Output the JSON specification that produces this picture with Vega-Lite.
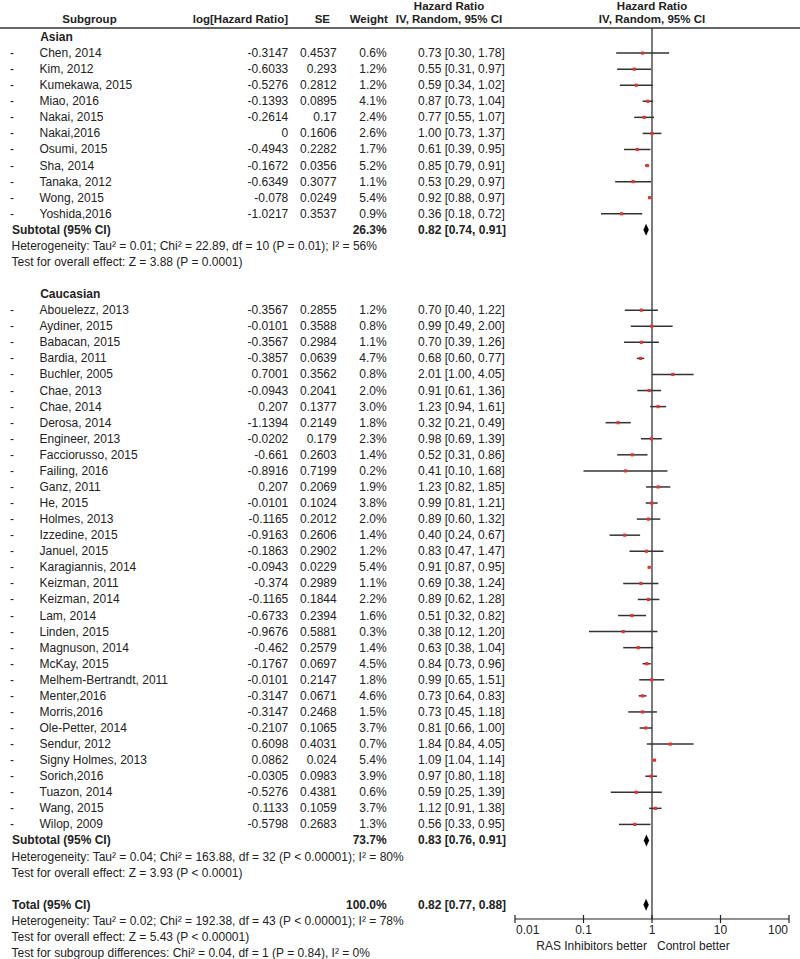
{
  "$schema": "https://vega.github.io/schema/vega-lite/v6.json",
  "width": 800,
  "height": 959,
  "autosize": "none",
  "padding": 0,
  "background": "white",
  "config": {
    "view": {"stroke": null},
    "text": {"font": "Liberation Sans", "fontSize": 12, "color": "#222222", "baseline": "middle"}
  },
  "datasets": {
    "studies": [
      {"row": 1, "name": "Chen, 2014", "lhr": "-0.3147", "se": "0.4537", "w": "0.6%", "ci": "0.73 [0.30, 1.78]", "hr": 0.73, "lo": 0.30, "hi": 1.78},
      {"row": 2, "name": "Kim, 2012", "lhr": "-0.6033", "se": "0.293", "w": "1.2%", "ci": "0.55 [0.31, 0.97]", "hr": 0.55, "lo": 0.31, "hi": 0.97},
      {"row": 3, "name": "Kumekawa, 2015", "lhr": "-0.5276", "se": "0.2812", "w": "1.2%", "ci": "0.59 [0.34, 1.02]", "hr": 0.59, "lo": 0.34, "hi": 1.02},
      {"row": 4, "name": "Miao, 2016", "lhr": "-0.1393", "se": "0.0895", "w": "4.1%", "ci": "0.87 [0.73, 1.04]", "hr": 0.87, "lo": 0.73, "hi": 1.04},
      {"row": 5, "name": "Nakai, 2015", "lhr": "-0.2614", "se": "0.17", "w": "2.4%", "ci": "0.77 [0.55, 1.07]", "hr": 0.77, "lo": 0.55, "hi": 1.07},
      {"row": 6, "name": "Nakai,2016", "lhr": "0", "se": "0.1606", "w": "2.6%", "ci": "1.00 [0.73, 1.37]", "hr": 1.00, "lo": 0.73, "hi": 1.37},
      {"row": 7, "name": "Osumi, 2015", "lhr": "-0.4943", "se": "0.2282", "w": "1.7%", "ci": "0.61 [0.39, 0.95]", "hr": 0.61, "lo": 0.39, "hi": 0.95},
      {"row": 8, "name": "Sha, 2014", "lhr": "-0.1672", "se": "0.0356", "w": "5.2%", "ci": "0.85 [0.79, 0.91]", "hr": 0.85, "lo": 0.79, "hi": 0.91},
      {"row": 9, "name": "Tanaka, 2012", "lhr": "-0.6349", "se": "0.3077", "w": "1.1%", "ci": "0.53 [0.29, 0.97]", "hr": 0.53, "lo": 0.29, "hi": 0.97},
      {"row": 10, "name": "Wong, 2015", "lhr": "-0.078", "se": "0.0249", "w": "5.4%", "ci": "0.92 [0.88, 0.97]", "hr": 0.92, "lo": 0.88, "hi": 0.97},
      {"row": 11, "name": "Yoshida,2016", "lhr": "-1.0217", "se": "0.3537", "w": "0.9%", "ci": "0.36 [0.18, 0.72]", "hr": 0.36, "lo": 0.18, "hi": 0.72},
      {"row": 17, "name": "Abouelezz, 2013", "lhr": "-0.3567", "se": "0.2855", "w": "1.2%", "ci": "0.70 [0.40, 1.22]", "hr": 0.70, "lo": 0.40, "hi": 1.22},
      {"row": 18, "name": "Aydiner, 2015", "lhr": "-0.0101", "se": "0.3588", "w": "0.8%", "ci": "0.99 [0.49, 2.00]", "hr": 0.99, "lo": 0.49, "hi": 2.00},
      {"row": 19, "name": "Babacan, 2015", "lhr": "-0.3567", "se": "0.2984", "w": "1.1%", "ci": "0.70 [0.39, 1.26]", "hr": 0.70, "lo": 0.39, "hi": 1.26},
      {"row": 20, "name": "Bardia, 2011", "lhr": "-0.3857", "se": "0.0639", "w": "4.7%", "ci": "0.68 [0.60, 0.77]", "hr": 0.68, "lo": 0.60, "hi": 0.77},
      {"row": 21, "name": "Buchler, 2005", "lhr": "0.7001", "se": "0.3562", "w": "0.8%", "ci": "2.01 [1.00, 4.05]", "hr": 2.01, "lo": 1.00, "hi": 4.05},
      {"row": 22, "name": "Chae, 2013", "lhr": "-0.0943", "se": "0.2041", "w": "2.0%", "ci": "0.91 [0.61, 1.36]", "hr": 0.91, "lo": 0.61, "hi": 1.36},
      {"row": 23, "name": "Chae, 2014", "lhr": "0.207", "se": "0.1377", "w": "3.0%", "ci": "1.23 [0.94, 1.61]", "hr": 1.23, "lo": 0.94, "hi": 1.61},
      {"row": 24, "name": "Derosa, 2014", "lhr": "-1.1394", "se": "0.2149", "w": "1.8%", "ci": "0.32 [0.21, 0.49]", "hr": 0.32, "lo": 0.21, "hi": 0.49},
      {"row": 25, "name": "Engineer, 2013", "lhr": "-0.0202", "se": "0.179", "w": "2.3%", "ci": "0.98 [0.69, 1.39]", "hr": 0.98, "lo": 0.69, "hi": 1.39},
      {"row": 26, "name": "Facciorusso, 2015", "lhr": "-0.661", "se": "0.2603", "w": "1.4%", "ci": "0.52 [0.31, 0.86]", "hr": 0.52, "lo": 0.31, "hi": 0.86},
      {"row": 27, "name": "Failing, 2016", "lhr": "-0.8916", "se": "0.7199", "w": "0.2%", "ci": "0.41 [0.10, 1.68]", "hr": 0.41, "lo": 0.10, "hi": 1.68},
      {"row": 28, "name": "Ganz, 2011", "lhr": "0.207", "se": "0.2069", "w": "1.9%", "ci": "1.23 [0.82, 1.85]", "hr": 1.23, "lo": 0.82, "hi": 1.85},
      {"row": 29, "name": "He, 2015", "lhr": "-0.0101", "se": "0.1024", "w": "3.8%", "ci": "0.99 [0.81, 1.21]", "hr": 0.99, "lo": 0.81, "hi": 1.21},
      {"row": 30, "name": "Holmes, 2013", "lhr": "-0.1165", "se": "0.2012", "w": "2.0%", "ci": "0.89 [0.60, 1.32]", "hr": 0.89, "lo": 0.60, "hi": 1.32},
      {"row": 31, "name": "Izzedine, 2015", "lhr": "-0.9163", "se": "0.2606", "w": "1.4%", "ci": "0.40 [0.24, 0.67]", "hr": 0.40, "lo": 0.24, "hi": 0.67},
      {"row": 32, "name": "Januel, 2015", "lhr": "-0.1863", "se": "0.2902", "w": "1.2%", "ci": "0.83 [0.47, 1.47]", "hr": 0.83, "lo": 0.47, "hi": 1.47},
      {"row": 33, "name": "Karagiannis, 2014", "lhr": "-0.0943", "se": "0.0229", "w": "5.4%", "ci": "0.91 [0.87, 0.95]", "hr": 0.91, "lo": 0.87, "hi": 0.95},
      {"row": 34, "name": "Keizman, 2011", "lhr": "-0.374", "se": "0.2989", "w": "1.1%", "ci": "0.69 [0.38, 1.24]", "hr": 0.69, "lo": 0.38, "hi": 1.24},
      {"row": 35, "name": "Keizman, 2014", "lhr": "-0.1165", "se": "0.1844", "w": "2.2%", "ci": "0.89 [0.62, 1.28]", "hr": 0.89, "lo": 0.62, "hi": 1.28},
      {"row": 36, "name": "Lam, 2014", "lhr": "-0.6733", "se": "0.2394", "w": "1.6%", "ci": "0.51 [0.32, 0.82]", "hr": 0.51, "lo": 0.32, "hi": 0.82},
      {"row": 37, "name": "Linden, 2015", "lhr": "-0.9676", "se": "0.5881", "w": "0.3%", "ci": "0.38 [0.12, 1.20]", "hr": 0.38, "lo": 0.12, "hi": 1.20},
      {"row": 38, "name": "Magnuson, 2014", "lhr": "-0.462", "se": "0.2579", "w": "1.4%", "ci": "0.63 [0.38, 1.04]", "hr": 0.63, "lo": 0.38, "hi": 1.04},
      {"row": 39, "name": "McKay, 2015", "lhr": "-0.1767", "se": "0.0697", "w": "4.5%", "ci": "0.84 [0.73, 0.96]", "hr": 0.84, "lo": 0.73, "hi": 0.96},
      {"row": 40, "name": "Melhem-Bertrandt, 2011", "lhr": "-0.0101", "se": "0.2147", "w": "1.8%", "ci": "0.99 [0.65, 1.51]", "hr": 0.99, "lo": 0.65, "hi": 1.51},
      {"row": 41, "name": "Menter,2016", "lhr": "-0.3147", "se": "0.0671", "w": "4.6%", "ci": "0.73 [0.64, 0.83]", "hr": 0.73, "lo": 0.64, "hi": 0.83},
      {"row": 42, "name": "Morris,2016", "lhr": "-0.3147", "se": "0.2468", "w": "1.5%", "ci": "0.73 [0.45, 1.18]", "hr": 0.73, "lo": 0.45, "hi": 1.18},
      {"row": 43, "name": "Ole-Petter, 2014", "lhr": "-0.2107", "se": "0.1065", "w": "3.7%", "ci": "0.81 [0.66, 1.00]", "hr": 0.81, "lo": 0.66, "hi": 1.00},
      {"row": 44, "name": "Sendur, 2012", "lhr": "0.6098", "se": "0.4031", "w": "0.7%", "ci": "1.84 [0.84, 4.05]", "hr": 1.84, "lo": 0.84, "hi": 4.05},
      {"row": 45, "name": "Signy Holmes, 2013", "lhr": "0.0862", "se": "0.024", "w": "5.4%", "ci": "1.09 [1.04, 1.14]", "hr": 1.09, "lo": 1.04, "hi": 1.14},
      {"row": 46, "name": "Sorich,2016", "lhr": "-0.0305", "se": "0.0983", "w": "3.9%", "ci": "0.97 [0.80, 1.18]", "hr": 0.97, "lo": 0.80, "hi": 1.18},
      {"row": 47, "name": "Tuazon, 2014", "lhr": "-0.5276", "se": "0.4381", "w": "0.6%", "ci": "0.59 [0.25, 1.39]", "hr": 0.59, "lo": 0.25, "hi": 1.39},
      {"row": 48, "name": "Wang, 2015", "lhr": "0.1133", "se": "0.1059", "w": "3.7%", "ci": "1.12 [0.91, 1.38]", "hr": 1.12, "lo": 0.91, "hi": 1.38},
      {"row": 49, "name": "Wilop, 2009", "lhr": "-0.5798", "se": "0.2683", "w": "1.3%", "ci": "0.56 [0.33, 0.95]", "hr": 0.56, "lo": 0.33, "hi": 0.95}
    ],
    "groups": [
      {"row": 0, "name": "Asian"},
      {"row": 16, "name": "Caucasian"}
    ],
    "summary": [
      {"row": 12, "name": "Subtotal (95% CI)", "w": "26.3%", "ci": "0.82 [0.74, 0.91]", "hr": 0.82, "lo": 0.74, "hi": 0.91},
      {"row": 50, "name": "Subtotal (95% CI)", "w": "73.7%", "ci": "0.83 [0.76, 0.91]", "hr": 0.83, "lo": 0.76, "hi": 0.91},
      {"row": 54, "name": "Total (95% CI)", "w": "100.0%", "ci": "0.82 [0.77, 0.88]", "hr": 0.82, "lo": 0.77, "hi": 0.88}
    ],
    "notes": [
      {"row": 13, "t": "Heterogeneity: Tau² = 0.01; Chi² = 22.89, df = 10 (P = 0.01); I² = 56%"},
      {"row": 14, "t": "Test for overall effect: Z = 3.88 (P = 0.0001)"},
      {"row": 51, "t": "Heterogeneity: Tau² = 0.04; Chi² = 163.88, df = 32 (P < 0.00001); I² = 80%"},
      {"row": 52, "t": "Test for overall effect: Z = 3.93 (P < 0.0001)"},
      {"row": 55, "t": "Heterogeneity: Tau² = 0.02; Chi² = 192.38, df = 43 (P < 0.00001); I² = 78%"},
      {"row": 56, "t": "Test for overall effect: Z = 5.43 (P < 0.00001)"},
      {"row": 57, "t": "Test for subgroup differences: Chi² = 0.04, df = 1 (P = 0.84), I² = 0%"}
    ],
    "hrhead": [
      {"row": -1.85, "t": "Hazard Ratio"},
      {"row": -1.05, "t": "IV, Random, 95% CI"}
    ],
    "colhead": [
      {"row": -1.05, "t": "Subgroup"},
      {"row": -1.05, "t": "log[Hazard Ratio]"},
      {"row": -1.05, "t": "SE"},
      {"row": -1.05, "t": "Weight"}
    ],
    "ticks": [{"v": 0.01}, {"v": 0.1}, {"v": 1}, {"v": 10}, {"v": 100}],
    "favours": [
      {"side": "left", "t": "RAS Inhibitors better"},
      {"side": "right", "t": "Control better"}
    ],
    "frame": [{"item": "line"}]
  },
  "layer": [
    {
      "layer": [
        {
          "data": {"name": "frame"},
          "mark": {"type": "rule", "color": "#333333", "strokeWidth": 1.5},
          "encoding": {
            "y": {"datum": -0.56, "type": "quantitative", "scale": {"domain": [-2.3024, 57.374], "reverse": true, "nice": false, "zero": false}, "axis": null}
          }
        },
        {
          "data": {"name": "frame"},
          "mark": {"type": "rule", "color": "#222222", "strokeWidth": 1.2},
          "encoding": {
            "x": {"datum": 1, "type": "quantitative", "scale": {"type": "log", "domain": [0.01, 100], "range": [515, 789], "nice": false}, "axis": null},
            "y": {"datum": -0.56, "type": "quantitative", "scale": {"domain": [-2.3024, 57.374], "reverse": true, "nice": false, "zero": false}, "axis": null},
            "y2": {"datum": 54.885}
          }
        },
        {
          "data": {"name": "frame"},
          "mark": {"type": "rule", "color": "#222222", "strokeWidth": 1.2},
          "encoding": {
            "x": {"datum": 0.01, "type": "quantitative", "scale": {"type": "log", "domain": [0.01, 100], "range": [515, 789], "nice": false}, "axis": null},
            "x2": {"datum": 100},
            "y": {"datum": 54.885, "type": "quantitative", "scale": {"domain": [-2.3024, 57.374], "reverse": true, "nice": false, "zero": false}, "axis": null}
          }
        },
        {
          "data": {"name": "studies"},
          "mark": {"type": "rule", "color": "#333333", "strokeWidth": 1.5},
          "encoding": {
            "x": {"field": "lo", "type": "quantitative", "scale": {"type": "log", "domain": [0.01, 100], "range": [515, 789], "nice": false}, "axis": null},
            "x2": {"field": "hi"},
            "y": {"field": "row", "type": "quantitative", "scale": {"domain": [-2.3024, 57.374], "reverse": true, "nice": false, "zero": false}, "axis": null}
          }
        },
        {
          "data": {"name": "studies"},
          "mark": {"type": "point", "shape": "square", "filled": true, "color": "#e8332b", "opacity": 1, "size": 10},
          "encoding": {
            "x": {"field": "hr", "type": "quantitative", "scale": {"type": "log", "domain": [0.01, 100], "range": [515, 789], "nice": false}, "axis": null},
            "y": {"field": "row", "type": "quantitative", "scale": {"domain": [-2.3024, 57.374], "reverse": true, "nice": false, "zero": false}, "axis": null}
          }
        },
        {
          "data": {"name": "ticks"},
          "mark": {"type": "tick", "orient": "vertical", "size": 8, "thickness": 1.2, "color": "#222222", "opacity": 1},
          "encoding": {
            "x": {"field": "v", "type": "quantitative", "scale": {"type": "log", "domain": [0.01, 100], "range": [515, 789], "nice": false}, "axis": null},
            "y": {"datum": 54.885, "type": "quantitative", "scale": {"domain": [-2.3024, 57.374], "reverse": true, "nice": false, "zero": false}, "axis": null}
          }
        },
        {
          "data": {"name": "ticks"},
          "transform": [{"filter": "datum.v === 0.01"}],
          "mark": {"type": "text", "align": "left", "dx": 1},
          "encoding": {
            "x": {"field": "v", "type": "quantitative", "scale": {"type": "log", "domain": [0.01, 100], "range": [515, 789], "nice": false}, "axis": null},
            "y": {"datum": 55.6, "type": "quantitative", "scale": {"domain": [-2.3024, 57.374], "reverse": true, "nice": false, "zero": false}, "axis": null},
            "text": {"field": "v", "type": "quantitative", "format": "~g"}
          }
        },
        {
          "data": {"name": "ticks"},
          "transform": [{"filter": "datum.v > 0.01 && datum.v < 100"}],
          "mark": {"type": "text", "align": "center"},
          "encoding": {
            "x": {"field": "v", "type": "quantitative", "scale": {"type": "log", "domain": [0.01, 100], "range": [515, 789], "nice": false}, "axis": null},
            "y": {"datum": 55.6, "type": "quantitative", "scale": {"domain": [-2.3024, 57.374], "reverse": true, "nice": false, "zero": false}, "axis": null},
            "text": {"field": "v", "type": "quantitative", "format": "~g"}
          }
        },
        {
          "data": {"name": "ticks"},
          "transform": [{"filter": "datum.v === 100"}],
          "mark": {"type": "text", "align": "right", "dx": -1},
          "encoding": {
            "x": {"field": "v", "type": "quantitative", "scale": {"type": "log", "domain": [0.01, 100], "range": [515, 789], "nice": false}, "axis": null},
            "y": {"datum": 55.6, "type": "quantitative", "scale": {"domain": [-2.3024, 57.374], "reverse": true, "nice": false, "zero": false}, "axis": null},
            "text": {"field": "v", "type": "quantitative", "format": "~g"}
          }
        },
        {
          "data": {"name": "summary"},
          "mark": {"type": "point", "shape": "M0,-1L0.45,0L0,1L-0.45,0Z", "filled": true, "color": "#000000", "opacity": 1, "size": 144},
          "encoding": {
            "x": {"field": "hr", "type": "quantitative", "scale": {"type": "log", "domain": [0.01, 100], "range": [515, 789], "nice": false}, "axis": null},
            "y": {"field": "row", "type": "quantitative", "scale": {"domain": [-2.3024, 57.374], "reverse": true, "nice": false, "zero": false}, "axis": null}
          }
        },
        {
          "data": {"name": "hrhead"},
          "mark": {"type": "text", "align": "center", "fontWeight": "bold", "fontSize": 11.5},
          "encoding": {
            "x": {"datum": 1, "type": "quantitative", "scale": {"type": "log", "domain": [0.01, 100], "range": [515, 789], "nice": false}, "axis": null},
            "y": {"field": "row", "type": "quantitative", "scale": {"domain": [-2.3024, 57.374], "reverse": true, "nice": false, "zero": false}, "axis": null},
            "text": {"field": "t"}
          }
        },
        {
          "data": {"name": "favours"},
          "transform": [{"filter": "datum.side === 'left'"}],
          "mark": {"type": "text", "align": "right", "dx": -5},
          "encoding": {
            "x": {"datum": 1, "type": "quantitative", "scale": {"type": "log", "domain": [0.01, 100], "range": [515, 789], "nice": false}, "axis": null},
            "y": {"datum": 56.55, "type": "quantitative", "scale": {"domain": [-2.3024, 57.374], "reverse": true, "nice": false, "zero": false}, "axis": null},
            "text": {"field": "t"}
          }
        },
        {
          "data": {"name": "favours"},
          "transform": [{"filter": "datum.side === 'right'"}],
          "mark": {"type": "text", "align": "left", "dx": 5},
          "encoding": {
            "x": {"datum": 1, "type": "quantitative", "scale": {"type": "log", "domain": [0.01, 100], "range": [515, 789], "nice": false}, "axis": null},
            "y": {"datum": 56.55, "type": "quantitative", "scale": {"domain": [-2.3024, 57.374], "reverse": true, "nice": false, "zero": false}, "axis": null},
            "text": {"field": "t"}
          }
        }
      ]
    },
    {
      "layer": [
        {
          "data": {"name": "studies"},
          "mark": {"type": "text", "align": "center"},
          "encoding": {
            "x": {"datum": "mark", "type": "nominal", "scale": {"type": "point", "domain": ["mark", "study", "logHR", "SE", "weight", "CI"], "range": [12, 418], "padding": 0}, "axis": null},
            "y": {"field": "row", "type": "quantitative", "scale": {"domain": [-2.3024, 57.374], "reverse": true, "nice": false, "zero": false}, "axis": null},
            "text": {"value": "-"}
          }
        },
        {
          "data": {"name": "studies"},
          "mark": {"type": "text", "align": "left", "dx": -53.7},
          "encoding": {
            "x": {"datum": "study", "type": "nominal", "scale": {"type": "point", "domain": ["mark", "study", "logHR", "SE", "weight", "CI"], "range": [12, 418], "padding": 0}, "axis": null},
            "y": {"field": "row", "type": "quantitative", "scale": {"domain": [-2.3024, 57.374], "reverse": true, "nice": false, "zero": false}, "axis": null},
            "text": {"field": "name"}
          }
        },
        {
          "data": {"name": "studies"},
          "mark": {"type": "text", "align": "right", "dx": 113.9},
          "encoding": {
            "x": {"datum": "logHR", "type": "nominal", "scale": {"type": "point", "domain": ["mark", "study", "logHR", "SE", "weight", "CI"], "range": [12, 418], "padding": 0}, "axis": null},
            "y": {"field": "row", "type": "quantitative", "scale": {"domain": [-2.3024, 57.374], "reverse": true, "nice": false, "zero": false}, "axis": null},
            "text": {"field": "lhr"}
          }
        },
        {
          "data": {"name": "studies"},
          "mark": {"type": "text", "align": "right", "dx": 81.1},
          "encoding": {
            "x": {"datum": "SE", "type": "nominal", "scale": {"type": "point", "domain": ["mark", "study", "logHR", "SE", "weight", "CI"], "range": [12, 418], "padding": 0}, "axis": null},
            "y": {"field": "row", "type": "quantitative", "scale": {"domain": [-2.3024, 57.374], "reverse": true, "nice": false, "zero": false}, "axis": null},
            "text": {"field": "se"}
          }
        },
        {
          "data": {"name": "studies"},
          "mark": {"type": "text", "align": "right", "dx": 49.9},
          "encoding": {
            "x": {"datum": "weight", "type": "nominal", "scale": {"type": "point", "domain": ["mark", "study", "logHR", "SE", "weight", "CI"], "range": [12, 418], "padding": 0}, "axis": null},
            "y": {"field": "row", "type": "quantitative", "scale": {"domain": [-2.3024, 57.374], "reverse": true, "nice": false, "zero": false}, "axis": null},
            "text": {"field": "w"}
          }
        },
        {
          "data": {"name": "studies"},
          "mark": {"type": "text", "align": "left", "dx": 0},
          "encoding": {
            "x": {"datum": "CI", "type": "nominal", "scale": {"type": "point", "domain": ["mark", "study", "logHR", "SE", "weight", "CI"], "range": [12, 418], "padding": 0}, "axis": null},
            "y": {"field": "row", "type": "quantitative", "scale": {"domain": [-2.3024, 57.374], "reverse": true, "nice": false, "zero": false}, "axis": null},
            "text": {"field": "ci"}
          }
        },
        {
          "data": {"name": "groups"},
          "mark": {"type": "text", "align": "left", "dx": -53, "fontWeight": "bold"},
          "encoding": {
            "x": {"datum": "study", "type": "nominal", "scale": {"type": "point", "domain": ["mark", "study", "logHR", "SE", "weight", "CI"], "range": [12, 418], "padding": 0}, "axis": null},
            "y": {"field": "row", "type": "quantitative", "scale": {"domain": [-2.3024, 57.374], "reverse": true, "nice": false, "zero": false}, "axis": null},
            "text": {"field": "name"}
          }
        },
        {
          "data": {"name": "summary"},
          "mark": {"type": "text", "align": "left", "fontWeight": "bold"},
          "encoding": {
            "x": {"datum": "mark", "type": "nominal", "scale": {"type": "point", "domain": ["mark", "study", "logHR", "SE", "weight", "CI"], "range": [12, 418], "padding": 0}, "axis": null},
            "y": {"field": "row", "type": "quantitative", "scale": {"domain": [-2.3024, 57.374], "reverse": true, "nice": false, "zero": false}, "axis": null},
            "text": {"field": "name"}
          }
        },
        {
          "data": {"name": "summary"},
          "mark": {"type": "text", "align": "right", "dx": 49.9, "fontWeight": "bold"},
          "encoding": {
            "x": {"datum": "weight", "type": "nominal", "scale": {"type": "point", "domain": ["mark", "study", "logHR", "SE", "weight", "CI"], "range": [12, 418], "padding": 0}, "axis": null},
            "y": {"field": "row", "type": "quantitative", "scale": {"domain": [-2.3024, 57.374], "reverse": true, "nice": false, "zero": false}, "axis": null},
            "text": {"field": "w"}
          }
        },
        {
          "data": {"name": "summary"},
          "mark": {"type": "text", "align": "left", "fontWeight": "bold"},
          "encoding": {
            "x": {"datum": "CI", "type": "nominal", "scale": {"type": "point", "domain": ["mark", "study", "logHR", "SE", "weight", "CI"], "range": [12, 418], "padding": 0}, "axis": null},
            "y": {"field": "row", "type": "quantitative", "scale": {"domain": [-2.3024, 57.374], "reverse": true, "nice": false, "zero": false}, "axis": null},
            "text": {"field": "ci"}
          }
        },
        {
          "data": {"name": "notes"},
          "mark": {"type": "text", "align": "left", "dx": -0.5},
          "encoding": {
            "x": {"datum": "mark", "type": "nominal", "scale": {"type": "point", "domain": ["mark", "study", "logHR", "SE", "weight", "CI"], "range": [12, 418], "padding": 0}, "axis": null},
            "y": {"field": "row", "type": "quantitative", "scale": {"domain": [-2.3024, 57.374], "reverse": true, "nice": false, "zero": false}, "axis": null},
            "text": {"field": "t"}
          }
        },
        {
          "data": {"name": "colhead"},
          "transform": [{"filter": "datum.t === 'Subgroup'"}],
          "mark": {"type": "text", "align": "center", "dx": -3.7, "fontWeight": "bold", "fontSize": 11.5},
          "encoding": {
            "x": {"datum": "study", "type": "nominal", "scale": {"type": "point", "domain": ["mark", "study", "logHR", "SE", "weight", "CI"], "range": [12, 418], "padding": 0}, "axis": null},
            "y": {"field": "row", "type": "quantitative", "scale": {"domain": [-2.3024, 57.374], "reverse": true, "nice": false, "zero": false}, "axis": null},
            "text": {"field": "t"}
          }
        },
        {
          "data": {"name": "colhead"},
          "transform": [{"filter": "datum.t === 'log[Hazard Ratio]'"}],
          "mark": {"type": "text", "align": "right", "dx": 113.6, "fontWeight": "bold", "fontSize": 11.5},
          "encoding": {
            "x": {"datum": "logHR", "type": "nominal", "scale": {"type": "point", "domain": ["mark", "study", "logHR", "SE", "weight", "CI"], "range": [12, 418], "padding": 0}, "axis": null},
            "y": {"field": "row", "type": "quantitative", "scale": {"domain": [-2.3024, 57.374], "reverse": true, "nice": false, "zero": false}, "axis": null},
            "text": {"field": "t"}
          }
        },
        {
          "data": {"name": "colhead"},
          "transform": [{"filter": "datum.t === 'SE'"}],
          "mark": {"type": "text", "align": "right", "dx": 74.4, "fontWeight": "bold", "fontSize": 11.5},
          "encoding": {
            "x": {"datum": "SE", "type": "nominal", "scale": {"type": "point", "domain": ["mark", "study", "logHR", "SE", "weight", "CI"], "range": [12, 418], "padding": 0}, "axis": null},
            "y": {"field": "row", "type": "quantitative", "scale": {"domain": [-2.3024, 57.374], "reverse": true, "nice": false, "zero": false}, "axis": null},
            "text": {"field": "t"}
          }
        },
        {
          "data": {"name": "colhead"},
          "transform": [{"filter": "datum.t === 'Weight'"}],
          "mark": {"type": "text", "align": "right", "dx": 51, "fontWeight": "bold", "fontSize": 11.5},
          "encoding": {
            "x": {"datum": "weight", "type": "nominal", "scale": {"type": "point", "domain": ["mark", "study", "logHR", "SE", "weight", "CI"], "range": [12, 418], "padding": 0}, "axis": null},
            "y": {"field": "row", "type": "quantitative", "scale": {"domain": [-2.3024, 57.374], "reverse": true, "nice": false, "zero": false}, "axis": null},
            "text": {"field": "t"}
          }
        },
        {
          "data": {"name": "hrhead"},
          "mark": {"type": "text", "align": "center", "dx": 31, "fontWeight": "bold", "fontSize": 11.5},
          "encoding": {
            "x": {"datum": "CI", "type": "nominal", "scale": {"type": "point", "domain": ["mark", "study", "logHR", "SE", "weight", "CI"], "range": [12, 418], "padding": 0}, "axis": null},
            "y": {"field": "row", "type": "quantitative", "scale": {"domain": [-2.3024, 57.374], "reverse": true, "nice": false, "zero": false}, "axis": null},
            "text": {"field": "t"}
          }
        }
      ]
    }
  ],
  "resolve": {"scale": {"x": "independent"}}
}
